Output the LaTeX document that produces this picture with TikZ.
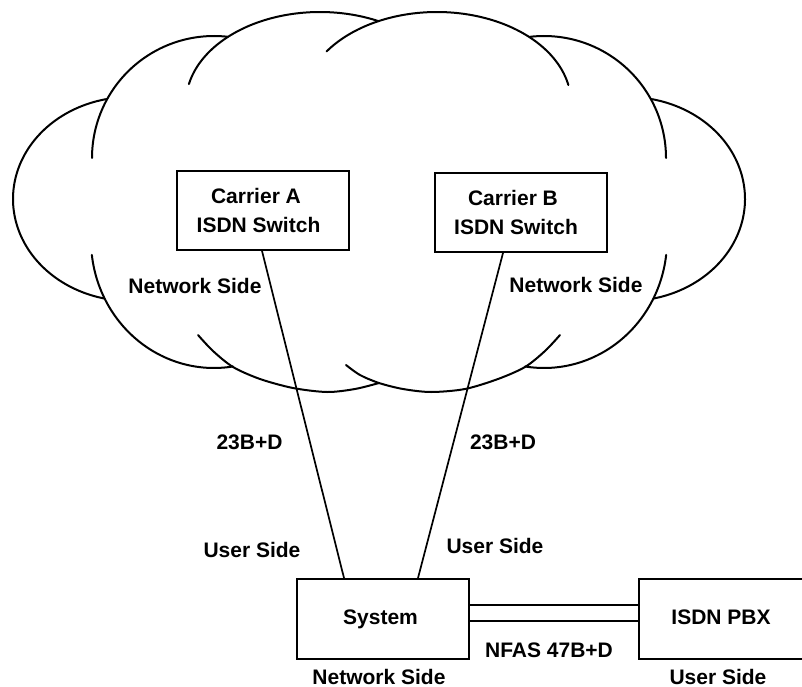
\documentclass[tikz,border=0pt]{standalone}
\usepackage{fontspec}
\setmainfont{Liberation Sans}
\usetikzlibrary{calc}
\begin{document}
\begin{tikzpicture}[x=1pt,y=-1pt,
  cloudline/.style={line width=2pt, line cap=round, line join=round},
  boxnode/.style={draw, line width=2pt, minimum width=172pt, minimum height=79pt, inner sep=0pt},
  lbl/.style={font=\fontsize{21}{25}\selectfont\bfseries, inner sep=0pt, anchor=base},
  wire/.style={line width=1.7pt}]
\useasboundingbox (0,0) rectangle (802,687);

% cloud lobes
% left lobe
\draw[cloudline] plot[domain=258.8:102.6, samples=90, variable=\t] ({130+117*cos(\t)}, {199+102*sin(\t)});
% second-left lobe, upper and lower parts
\draw[cloudline] plot[domain=180:276.6, samples=60, variable=\t] ({214+122*cos(\t)}, {158+122*sin(\t)});
\draw[cloudline] plot[domain=173.3:81.1, samples=60, variable=\t] ({214+123*cos(\t)}, {240+128*sin(\t)});
% top lobes
\draw[cloudline] plot[domain=192:295.9, samples=70, variable=\t] ({320+134*cos(\t)}, {103+91*sin(\t)});
\draw[cloudline] plot[domain=214.5:348.6, samples=90, variable=\t] ({437+134*cos(\t)}, {103+91*sin(\t)});
% second-right lobe, upper and lower parts
\draw[cloudline] plot[domain=263.4:360, samples=60, variable=\t] ({544+122*cos(\t)}, {158+122*sin(\t)});
\draw[cloudline] plot[domain=6.7:98.9, samples=60, variable=\t] ({544+123*cos(\t)}, {240+128*sin(\t)});
% right lobe
\draw[cloudline] plot[domain=-78.8:77.4, samples=90, variable=\t] ({628+117*cos(\t)}, {199+102*sin(\t)});
% bottom lobes
\draw[cloudline] plot[smooth] coordinates {(198,335) (213,351) (233,367) (260,379) (293,388) (327,392) (355,389) (379,383)};
\draw[cloudline] plot[smooth] coordinates {(346,365) (360,375) (379,383) (403,389) (431,392) (465,389) (498,379) (525,367) (545,351) (560,335)};

% boxes
\node[boxnode] (swA) at (263,210.5) {};
\node[boxnode] (swB) at (521,212.5) {};
\node[boxnode, minimum height=80pt] (sys) at (383,619) {};
\node[boxnode, minimum height=80pt] (pbx) at (725,619) {};

% box texts
\node[lbl] (aTop) at (256,203) {Carrier A};
\node[lbl] (aBot) at (258.5,232) {ISDN Switch};
\node[lbl] (bTop) at (513,205) {Carrier B};
\node[lbl] (bBot) at (516,234) {ISDN Switch};
\node[lbl] (sysT) at (380.5,624) {System};
\node[lbl] (pbxT) at (721,624) {ISDN PBX};

% connectors
\draw[wire] ([xshift=-1pt]swA.south) -- ([xshift=-39pt]sys.north);
\draw[wire] ([xshift=-18pt]swB.south) -- ([xshift=35pt]sys.north);
\draw[wire] ([yshift=14pt,xshift=-2pt]sys.east) -- ([yshift=14pt]pbx.west);
\draw[wire] ([yshift=-2pt,xshift=-2pt]sys.east) -- ([yshift=-2pt]pbx.west);

% labels
\node[lbl] (nsA) at (195,293) {Network Side};
\node[lbl] (nsB) at (576,292) {Network Side};
\node[lbl] (chA) at (249.5,449) {23B+D};
\node[lbl] (chB) at (503,449) {23B+D};
\node[lbl] (usA) at (252,557) {User Side};
\node[lbl] (usB) at (495,553) {User Side};
\node[lbl] (nfas) at (549,657) {NFAS 47B+D};
\node[lbl] (nsSys) at (379,684) {Network Side};
\node[lbl] (usPbx) at (718,684) {User Side};
\end{tikzpicture}
\end{document}
